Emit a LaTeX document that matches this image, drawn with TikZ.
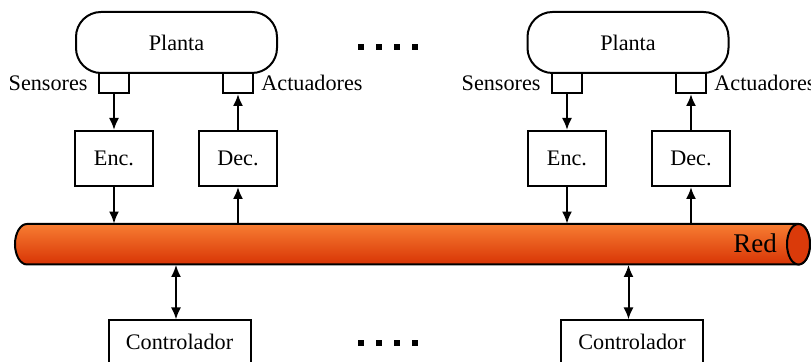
\documentclass[tikz,border=0pt]{standalone}
\usepackage{fontspec}
\setmainfont{Liberation Serif}
\usetikzlibrary{arrows.meta,positioning}
\definecolor{cTop}{RGB}{247,125,50}
\definecolor{cBot}{RGB}{216,52,5}
\definecolor{cEnd}{RGB}{218,58,10}
\begin{document}
\begin{tikzpicture}[x=0.5pt,y=0.5pt,
  every node/.style={font=\fontsize{11.1}{13}\selectfont},
  plantbox/.style={draw,line width=1pt,rounded corners=12.5pt,minimum width=100.5pt,minimum height=30.5pt,inner sep=0pt},
  port/.style={draw,line width=1pt,minimum width=15pt,minimum height=10pt,inner sep=0pt},
  codec/.style={draw,line width=1pt,minimum width=39pt,minimum height=27.5pt,inner sep=0pt},
  ctrlbox/.style={draw,line width=1pt,minimum width=71pt,minimum height=21.5pt,inner sep=0pt},
  lbl/.style={inner sep=0pt},
  arr/.style={line width=1pt,-{Latex[length=6pt,width=5pt]}},
  darr/.style={line width=1pt,{Latex[length=6pt,width=5pt]}-{Latex[length=6pt,width=5pt]}},
  dot/.style={fill=black}
]
\useasboundingbox (0,0) rectangle (811,362);

% network cylinder
\shade[top color=cTop,bottom color=cBot,draw,line width=1pt]
  (27,138) -- (798.5,138) arc[start angle=90,end angle=-90,x radius=5.75pt,y radius=10.125pt]
  -- (27,97.5) arc[start angle=270,end angle=90,x radius=6pt,y radius=10.125pt] -- cycle;
\draw[fill=cEnd,line width=1pt] (798.5,117.75) ellipse[x radius=5.75pt,y radius=10.125pt];
\node[minimum width=397.5pt,minimum height=20.25pt,inner sep=0pt] (red) at (412.5,117.75) {};
\node[lbl,anchor=base,font=\fontsize{13.5}{16}\selectfont] (redlbl) at (755,109) {Red};

% plants
\node[plantbox] (p1) at (176.5,319.5) {Planta};
\node[plantbox] (p2) at (628,319.5) {Planta};

% ports
\node[port] (s1) at (114,279) {};
\node[port] (a1) at (238,279) {};
\node[port] (s2) at (567,279) {};
\node[port] (a2) at (691,279) {};
\node[lbl,left=5pt of s1] (ls1) {Sensores};
\node[lbl,right=3.5pt of a1] (la1) {Actuadores};
\node[lbl,left=5pt of s2] (ls2) {Sensores};
\node[lbl,right=3.5pt of a2] (la2) {Actuadores};

% encoders / decoders
\node[codec] (e1) at (114,203.5) {Enc.};
\node[codec] (d1) at (238,203.5) {Dec.};
\node[codec] (e2) at (567,203.5) {Enc.};
\node[codec] (d2) at (691,203.5) {Dec.};

% controllers
\node[ctrlbox] (c1) at (179.5,20) {Controlador};
\node[ctrlbox] (c2) at (632,20) {Controlador};
\coordinate (x1) at (176,0);
\coordinate (x2) at (628.5,0);

% connectors
\draw[arr] (s1) -- (e1);
\draw[arr] (e1) -- (e1 |- red.north);
\draw[arr] (red.north -| d1) -- (d1);
\draw[arr] (d1) -- (a1);
\draw[arr] (s2) -- (e2);
\draw[arr] (e2) -- (e2 |- red.north);
\draw[arr] (red.north -| d2) -- (d2);
\draw[arr] (d2) -- (a2);
\draw[darr] (red.south -| x1) -- (c1.north -| x1);
\draw[darr] (red.south -| x2) -- (c2.north -| x2);

% ellipsis dots
\foreach \xx in {361,379,397,415} {
  \fill[dot] ({\xx-3},311.7) rectangle ({\xx+3},317.7);
  \fill[dot] ({\xx-3},15.5) rectangle ({\xx+3},21.5);
}
\end{tikzpicture}
\end{document}
